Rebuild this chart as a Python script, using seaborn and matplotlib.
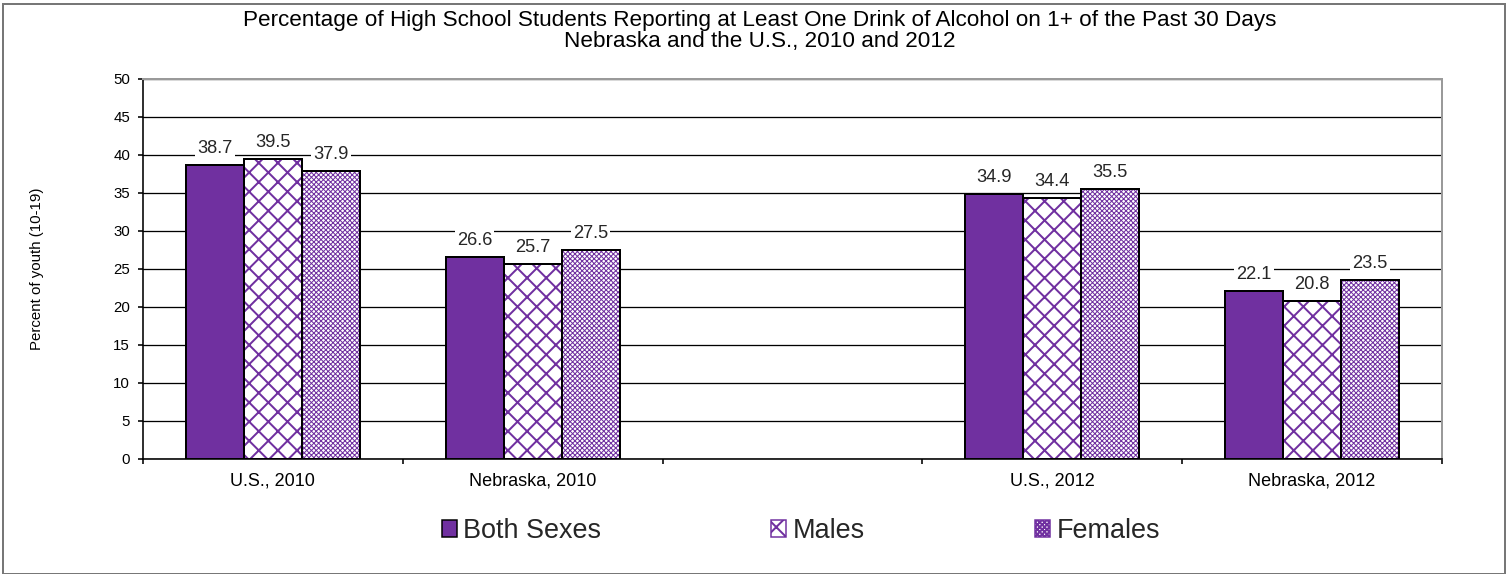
import matplotlib
matplotlib.use("Agg")
import matplotlib.pyplot as plt
import seaborn as sns
import pandas as pd
from matplotlib.patches import Rectangle, Patch

categories = ["U.S., 2010", "Nebraska, 2010", "", "U.S., 2012", "Nebraska, 2012"]
data_categories = ["U.S., 2010", "Nebraska, 2010", "U.S., 2012", "Nebraska, 2012"]
series = ["Both Sexes", "Males", "Females"]
both_sexes = [38.7, 26.6, 34.9, 22.1]
males = [39.5, 25.7, 34.4, 20.8]
females = [37.9, 27.5, 35.5, 23.5]

title = ("Percentage of High School Students Reporting at Least One Drink of Alcohol on 1+ of the Past 30 Days\n"
         "Nebraska and the U.S., 2010 and 2012")
ylabel = "Percent of youth (10-19)"

W, H = 1511, 574
DPI = 115


def pt(px):
    return px * 72.0 / DPI


sns.set_theme(style="white")
plt.rcParams['font.family'] = ['Liberation Sans', 'DejaVu Sans']
plt.rcParams['hatch.linewidth'] = pt(2.0)

purple = "#7030A0"

rows = []
for s, vals in zip(series, [both_sexes, males, females]):
    for c, v in zip(data_categories, vals):
        rows.append({"cat": c, "series": s, "value": v})
df = pd.DataFrame(rows)

fig = plt.figure(figsize=(W / DPI, H / DPI), dpi=DPI)
ax = fig.add_axes([143 / W, 1 - 459 / H, (1442 - 143) / W, (459 - 79) / H])

sns.barplot(data=df, x="cat", y="value", hue="series", order=categories,
            hue_order=series, palette=[purple, "white", "white"],
            width=0.67, gap=0, ax=ax, legend=False, errorbar=None,
            saturation=1)

hatches = [None, "xx", "xxxxxxxx"]
hatch_lw = [None, pt(2.0), pt(1.0)]
conts = list(ax.containers)


def set_hlw(p, lw):
    if hasattr(p, "set_hatch_linewidth"):
        p.set_hatch_linewidth(lw)
    else:
        p._hatch_linewidth = lw


for cont, h, hl in zip(conts, hatches, hatch_lw):
    for p in cont:
        p.set_linewidth(0)
        if h:
            p.set_facecolor("white")
            p.set_hatch(h)
            p.set_edgecolor(purple)
            set_hlw(p, hl)
        else:
            p.set_facecolor(purple)
        ax.add_patch(Rectangle(p.get_xy(), p.get_width(), p.get_height(),
                               fill=False, edgecolor="black", linewidth=pt(2.0), zorder=3))
    ax.bar_label(cont, fmt="%.1f", padding=pt(8), fontsize=pt(18.3),
                 bbox=dict(facecolor="white", edgecolor="none", pad=pt(2)), zorder=4)

ax.set_ylim(0, 50)
ax.set_yticks(range(0, 51, 5))
ax.set_xlim(-0.5, 4.5)
ax.yaxis.grid(True, color="black", linewidth=pt(1.3))
ax.set_axisbelow(True)
for s in ["top", "right"]:
    ax.spines[s].set_color("#9a9a9a")
    ax.spines[s].set_linewidth(pt(2))
for s in ["left", "bottom"]:
    ax.spines[s].set_color("black")
    ax.spines[s].set_linewidth(pt(1.6))

ax.tick_params(axis="y", which="major", left=True, length=pt(5), width=pt(1.6), color="black",
               labelsize=pt(15), pad=pt(8), labelcolor="black")
ax.set_xticks(range(5))
ax.set_xticklabels(categories)
ax.tick_params(axis="x", which="major", bottom=False, labelsize=pt(18), pad=pt(4),
               labelcolor="black")
ax.set_xticks([i - 0.5 for i in range(6)], minor=True)
ax.tick_params(axis="x", which="minor", bottom=True, length=pt(5), width=pt(1.6), color="black")
ax.set_xlabel("")
ax.set_ylabel("")

fig.text(37 / W, 1 - 269 / H, ylabel, rotation=90, ha="center", va="center",
         fontsize=pt(15), color="black")

fig.text(760 / W, 1 - 10 / H, title, ha="center", va="top", fontsize=pt(22.5),
         linespacing=0.98, color="black")

handles = [Patch(facecolor=purple, edgecolor="black", linewidth=pt(1.5)),
           Patch(facecolor="white", edgecolor=purple, hatch="xx", linewidth=pt(1.5)),
           Patch(facecolor="white", edgecolor=purple, hatch="xxxxxxxx", linewidth=pt(1.5))]
fs_leg = pt(27)
fig.legend(handles, series, loc="center", bbox_to_anchor=(801 / W, 1 - 531 / H),
           ncol=3, frameon=False, fontsize=fs_leg, handlelength=0.55, handleheight=0.55,
           handletextpad=0.25, columnspacing=6.3, borderpad=0)

fig.patches.append(Rectangle((3 / W, 0.0), 1502 / W, 1 - 4 / H, transform=fig.transFigure,
                             fill=False, edgecolor="#777777", linewidth=pt(2)))

fig.savefig("out.png", dpi=DPI)
